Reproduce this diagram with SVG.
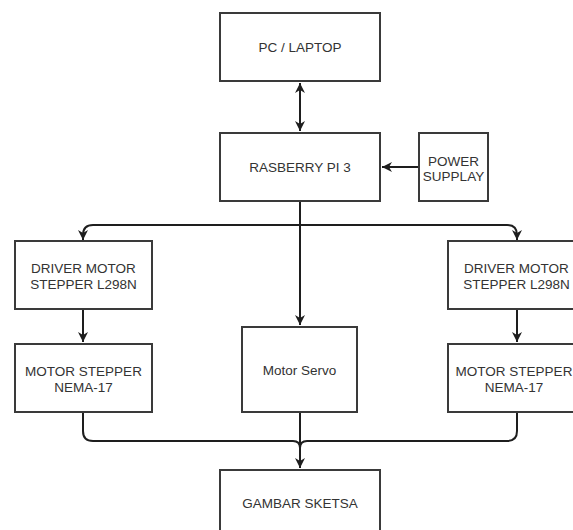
<svg xmlns="http://www.w3.org/2000/svg" width="573" height="530" viewBox="0 0 573 530">
<style>
.box{fill:#fff;stroke:#3a3a3a;stroke-width:2}
.t{font-family:"Liberation Sans",Arial,sans-serif;font-size:13.5px;fill:#333;text-anchor:middle}
.c{fill:none;stroke:#1e1e1e;stroke-width:2}
</style>
<defs>
<marker id="ah" markerUnits="userSpaceOnUse" markerWidth="12" markerHeight="12" refX="10" refY="5" orient="auto-start-reverse" viewBox="0 0 12 10">
<path d="M0,0 L10,5 L0,10 L3,5 z" fill="#1e1e1e"/>
</marker>
</defs>
<rect width="573" height="530" fill="#fff"/>
<g id="connectors">
<path class="c" d="M300,83 V131" marker-start="url(#ah)" marker-end="url(#ah)"/>
<path class="c" d="M419,167 H382" marker-end="url(#ah)"/>
<path class="c" d="M300,201 V325" marker-end="url(#ah)"/>
<path class="c" d="M300,225 H93 Q83,225 83,235 V240" marker-end="url(#ah)"/>
<path class="c" d="M300,225 H507 Q517,225 517,235 V240" marker-end="url(#ah)"/>
<path class="c" d="M83,309 V342" marker-end="url(#ah)"/>
<path class="c" d="M517,309 V342" marker-end="url(#ah)"/>
<path class="c" d="M83,412 V431 Q83,441 93,441 H293 Q300,441 300,448"/>
<path class="c" d="M517,412 V431 Q517,441 507,441 H307 Q300,441 300,448"/>
<path class="c" d="M300,412 V468" marker-end="url(#ah)"/>
</g>
<g id="pc"><rect class="box" x="220" y="13" width="160" height="68"/><text class="t" x="300" y="52">PC / LAPTOP</text></g>
<g id="rpi"><rect class="box" x="220" y="133" width="160" height="68"/><text class="t" x="300" y="172">RASBERRY PI 3</text></g>
<g id="power"><rect class="box" x="419" y="133" width="69" height="68"/><text class="t" x="453.5" y="166">POWER</text><text class="t" x="453.5" y="181">SUPPLAY</text></g>
<g id="driverL"><rect class="box" x="15" y="241" width="137" height="68"/><text class="t" x="83.5" y="273">DRIVER MOTOR</text><text class="t" x="83.5" y="288.5">STEPPER L298N</text></g>
<g id="driverR"><rect class="box" x="448" y="241" width="137" height="68"/><text class="t" x="516.5" y="273">DRIVER MOTOR</text><text class="t" x="516.5" y="288.5">STEPPER L298N</text></g>
<g id="stepperL"><rect class="box" x="15" y="344" width="137" height="68"/><text class="t" x="83.5" y="376">MOTOR STEPPER</text><text class="t" x="83.5" y="391.5">NEMA-17</text></g>
<g id="servo"><rect class="box" x="242" y="327" width="115" height="85"/><text class="t" x="299.5" y="374.5">Motor Servo</text></g>
<g id="stepperR"><rect class="box" x="448" y="344" width="137" height="68"/><text class="t" x="514" y="376">MOTOR STEPPER</text><text class="t" x="514" y="391.5">NEMA-17</text></g>
<g id="gambar"><rect class="box" x="220" y="470" width="160" height="68"/><text class="t" x="300" y="508">GAMBAR SKETSA</text></g>
</svg>
